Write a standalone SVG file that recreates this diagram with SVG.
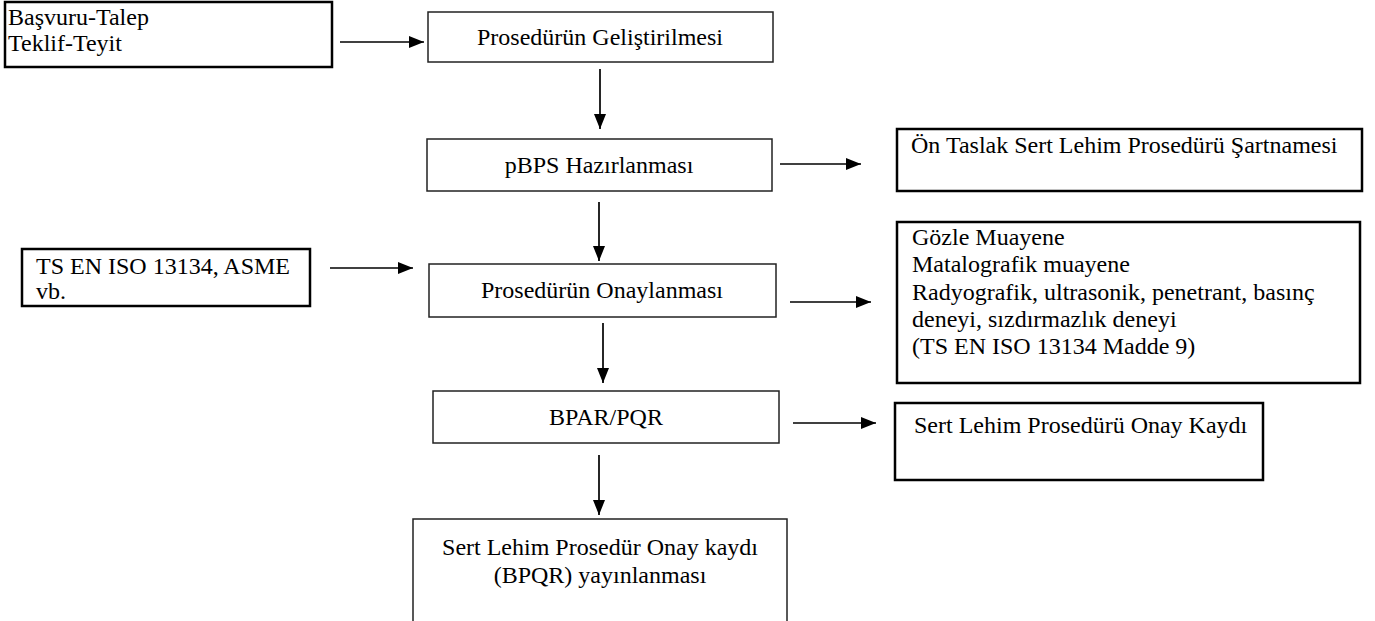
<svg xmlns="http://www.w3.org/2000/svg" width="1375" height="621" viewBox="0 0 1375 621">
<style>
text{font-family:"Liberation Serif","Times New Roman",serif;font-size:24px;fill:#000}
.c{text-anchor:middle}
.thin{fill:#fff;stroke:#222;stroke-width:1.5}
.thick{fill:#fff;stroke:#000;stroke-width:2.5}
.ln{stroke:#000;stroke-width:1.7;fill:none}
</style>
<defs>
<marker id="ah" viewBox="0 0 15 12" refX="15" refY="6" markerWidth="15" markerHeight="12" markerUnits="userSpaceOnUse" orient="auto">
<path d="M0,0 L15,6 L0,12 Z" fill="#000"/>
</marker>
</defs>
<rect width="1375" height="621" fill="#fff"/>
<g id="connectors">
<line class="ln" x1="340" y1="42" x2="424" y2="42" marker-end="url(#ah)"/>
<line class="ln" x1="600" y1="69" x2="600" y2="129" marker-end="url(#ah)"/>
<line class="ln" x1="780" y1="164" x2="861" y2="164" marker-end="url(#ah)"/>
<line class="ln" x1="599" y1="202" x2="599" y2="261" marker-end="url(#ah)"/>
<line class="ln" x1="330" y1="268" x2="413" y2="268" marker-end="url(#ah)"/>
<line class="ln" x1="790" y1="302" x2="871" y2="302" marker-end="url(#ah)"/>
<line class="ln" x1="603" y1="323" x2="603" y2="383" marker-end="url(#ah)"/>
<line class="ln" x1="793" y1="423" x2="876" y2="423" marker-end="url(#ah)"/>
<line class="ln" x1="599" y1="455" x2="599" y2="515" marker-end="url(#ah)"/>
</g>
<g id="basvuru">
<rect class="thick" x="5" y="2" width="327" height="65"/>
<text x="8" y="25">Başvuru-Talep</text>
<text x="8" y="51">Teklif-Teyit</text>
</g>
<g id="gelistirme">
<rect class="thin" x="428" y="12" width="345" height="50"/>
<text class="c" x="600" y="45">Prosedürün Geliştirilmesi</text>
</g>
<g id="pbps">
<rect class="thin" x="427" y="139" width="345" height="52"/>
<text class="c" x="599" y="173">pBPS Hazırlanması</text>
</g>
<g id="ontaslak">
<rect class="thick" x="897" y="129" width="465" height="62"/>
<text x="911" y="153">Ön Taslak Sert Lehim Prosedürü Şartnamesi</text>
</g>
<g id="tsen">
<rect class="thick" x="22" y="249" width="288" height="57"/>
<text x="36" y="274">TS EN ISO 13134, ASME</text>
<text x="36" y="299">vb.</text>
</g>
<g id="onaylanma">
<rect class="thin" x="429" y="264" width="347" height="53"/>
<text class="c" x="602" y="298">Prosedürün Onaylanması</text>
</g>
<g id="muayene">
<rect class="thick" x="897" y="222" width="463" height="161"/>
<text x="912" y="245">Gözle Muayene</text>
<text x="912" y="272">Matalografik muayene</text>
<text x="912" y="300">Radyografik, ultrasonik, penetrant, basınç</text>
<text x="912" y="327">deneyi, sızdırmazlık deneyi</text>
<text x="912" y="354">(TS EN ISO 13134 Madde 9)</text>
</g>
<g id="bpar">
<rect class="thin" x="433" y="391" width="346" height="52"/>
<text class="c" x="606" y="425">BPAR/PQR</text>
</g>
<g id="onaykaydi">
<rect class="thick" x="895" y="403" width="368" height="77"/>
<text x="914" y="433">Sert Lehim Prosedürü Onay Kaydı</text>
</g>
<g id="bpqr">
<rect class="thin" x="413" y="519" width="374" height="110"/>
<text class="c" x="600" y="555">Sert Lehim Prosedür Onay kaydı</text>
<text class="c" x="600" y="583">(BPQR) yayınlanması</text>
</g>
</svg>
